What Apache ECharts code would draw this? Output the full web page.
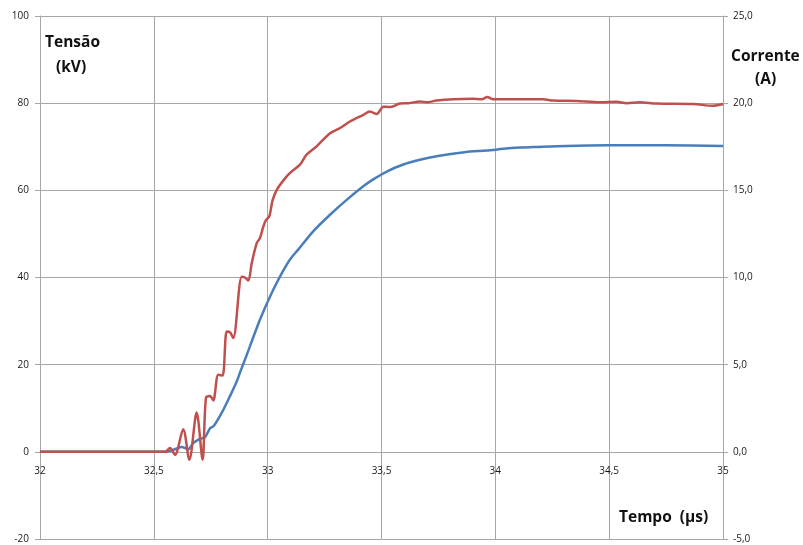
<!DOCTYPE html>
<html>
<head>
<meta charset="utf-8">
<script src="https://cdn.jsdelivr.net/npm/echarts@6/dist/echarts.min.js"></script>
<style>html,body{margin:0;padding:0;background:#fff}#c{width:803px;height:545px}</style>
</head>
<body>
<div id="c"></div>
<script>
// Tensão (kV) — red
var voltTime = [32.0,32.25,32.55,32.571,32.593,32.629,32.656,32.688,32.714,32.729,32.747,32.761,32.783,32.802,32.82,32.835,32.849,32.886,32.9,32.915,32.93,32.952,32.966,32.981,32.993,33.007,33.022,33.04,33.065,33.098,33.142,33.171,33.215,33.274,33.318,33.361,33.391,33.42,33.449,33.479,33.508,33.537,33.581,33.62,33.669,33.7,33.742,33.815,33.9,33.94,33.965,33.99,34.108,34.21,34.254,34.357,34.459,34.533,34.577,34.635,34.708,34.869,34.957,35.0];
var voltValues = [0,0,0,0.9,-0.7,5.2,-1.8,9.0,-1.8,12.4,12.8,11.8,17.7,17.5,27.6,27.4,26.1,40.2,40.0,39.3,43.3,47.9,49.0,51.7,53.2,54.0,57.8,60.1,62.0,64.0,65.9,68.2,70.1,73.1,74.3,75.8,76.6,77.3,78.1,77.5,79.2,79.1,79.9,80.0,80.4,80.2,80.6,80.9,81.0,80.9,81.4,80.9,80.9,80.9,80.6,80.5,80.2,80.3,80.0,80.2,79.9,79.8,79.4,79.8];
// Corrente (A) — blue
var currTime = [32.0,32.55,32.593,32.622,32.651,32.673,32.7,32.725,32.747,32.764,32.798,32.834,32.864,32.878,32.9,32.922,32.966,33.01,33.054,33.098,33.134,33.2,33.274,33.347,33.42,33.46,33.523,33.596,33.669,33.742,33.815,33.888,33.962,34.035,34.108,34.166,34.313,34.5,34.75,35.0];
var currValues = [0,0,0.15,0.28,0.15,0.5,0.73,0.85,1.35,1.5,2.23,3.18,4.03,4.53,5.28,6.05,7.58,8.9,10.05,11.03,11.6,12.65,13.6,14.45,15.23,15.6,16.08,16.48,16.75,16.95,17.1,17.23,17.28,17.38,17.45,17.48,17.55,17.58,17.58,17.55];

function pairs(a, b){ return a.map(function(t,i){ return [t, b[i]]; }); }
var FONT = 'Open Sans';
var gridCol = '#a6a6a6';
var GRID_H = 545 - 16 - 6;
var chart = echarts.init(document.getElementById('c'), null, {renderer:'canvas'});
chart.setOption({
  animation: false,
  grid: {left: 40, right: 80, top: 16, bottom: 6, containLabel: false, outerBoundsMode: 'none'},
  xAxis: {
    type: 'value', min: 32, max: 35, interval: 0.5,
    offset: -GRID_H * 20 / 120,
    axisLine: {show: true, onZero: false, lineStyle: {color: gridCol, width: 1}},
    axisTick: {show: false},
    splitLine: {show: true, lineStyle: {color: gridCol, width: 1}},
    axisLabel: {margin: 14, fontSize: 10, fontFamily: FONT, color: '#1a1a1a',
      formatter: function(v){ return String(v).replace('.', ','); }}
  },
  yAxis: [{
    type: 'value', min: -20, max: 100, interval: 20,
    axisLine: {show: true, onZero: false, lineStyle: {color: gridCol}},
    axisTick: {show: true, length: 5, lineStyle: {color: gridCol}},
    splitLine: {show: true, lineStyle: {color: gridCol, width: 1}},
    axisLabel: {margin: 11, fontSize: 10, fontFamily: FONT, color: '#1a1a1a'}
  },{
    type: 'value', min: -5, max: 25, interval: 5, position: 'right',
    axisLine: {show: true, onZero: false, lineStyle: {color: gridCol}},
    axisTick: {show: true, length: 5, lineStyle: {color: gridCol}},
    splitLine: {show: false},
    axisLabel: {margin: 10, fontSize: 10, fontFamily: FONT, color: '#1a1a1a',
      formatter: function(v){ return v.toFixed(1).replace('.', ','); }}
  }],
  series: [{
    name: 'Corrente', type: 'line', yAxisIndex: 1, showSymbol: false, smooth: 0.3,
    data: pairs(currTime, currValues),
    lineStyle: {color: '#4a7ebb', width: 2.5}, itemStyle: {color: '#4a7ebb'}
  },{
    name: 'Tensão', type: 'line', yAxisIndex: 0, showSymbol: false, smooth: 0.3,
    data: pairs(voltTime, voltValues),
    lineStyle: {color: '#c0504d', width: 2.5}, itemStyle: {color: '#c0504d'}
  }],
  graphic: [
    {type: 'text', left: 45, top: 35, style: {text: 'Tensão', font: 'bold 15.5px "Open Sans"', fill: '#111'}},
    {type: 'text', left: 56, top: 60, style: {text: '(kV)', font: 'bold 15.5px "Open Sans"', fill: '#111'}},
    {type: 'text', left: 731, top: 49, style: {text: 'Corrente', font: 'bold 15.5px "Open Sans"', fill: '#111'}},
    {type: 'text', left: 755, top: 72, style: {text: '(A)', font: 'bold 15.5px "Open Sans"', fill: '#111'}},
    {type: 'text', left: 619, top: 510, style: {text: 'Tempo  (µs)', font: 'bold 15.5px "Open Sans"', fill: '#111'}}
  ]
});
</script>
</body>
</html>
